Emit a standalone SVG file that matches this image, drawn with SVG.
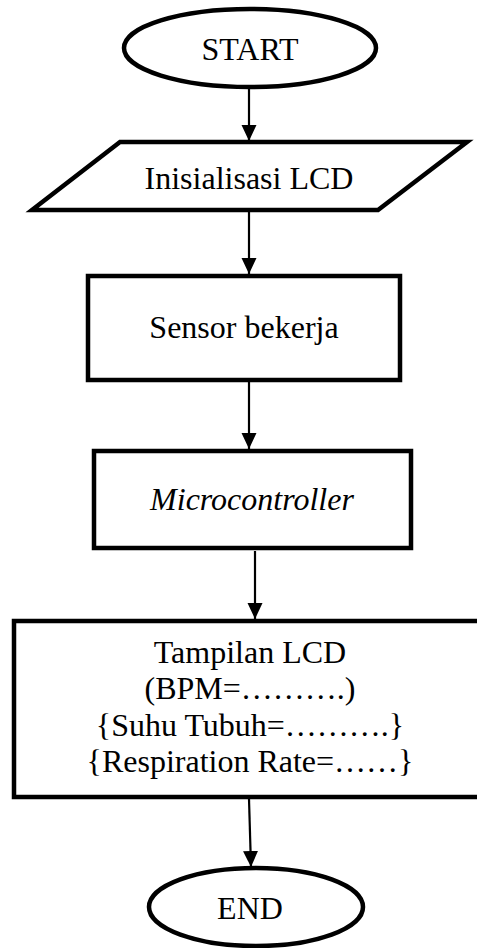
<svg xmlns="http://www.w3.org/2000/svg" width="477" height="948" viewBox="0 0 477 948">
<style>
.shape{fill:#fff;stroke:#000;stroke-width:4.5}
.conn{stroke:#000;stroke-width:2.2;fill:none}
text{font-family:"Liberation Serif","Times New Roman",serif;font-size:32px;fill:#000;text-anchor:middle}
.it{font-style:italic}
</style>
<defs>
<marker id="ah" markerUnits="userSpaceOnUse" markerWidth="17" markerHeight="16" refX="16" refY="7.5" orient="auto">
<path d="M0,0 L16,7.5 L0,15 z" fill="#000"/>
</marker>
</defs>
<rect width="477" height="948" fill="#fff"/>
<g id="connectors">
<line class="conn" x1="249" y1="88" x2="249" y2="141" marker-end="url(#ah)"/>
<line class="conn" x1="249" y1="212" x2="249" y2="274" marker-end="url(#ah)"/>
<line class="conn" x1="249" y1="382" x2="249" y2="449" marker-end="url(#ah)"/>
<line class="conn" x1="255" y1="551" x2="255" y2="619" marker-end="url(#ah)"/>
<line class="conn" x1="249" y1="799" x2="251" y2="867" marker-end="url(#ah)"/>
</g>
<g id="start">
<ellipse class="shape" cx="250" cy="48" rx="126" ry="39"/>
<text x="250" y="60">START</text>
</g>
<g id="init">
<polygon class="shape" points="120,142 467,142 378,210 32,210"/>
<text x="249" y="189">Inisialisasi LCD</text>
</g>
<g id="sensor">
<rect class="shape" x="88" y="276" width="312" height="104"/>
<text x="244" y="338">Sensor bekerja</text>
</g>
<g id="micro">
<rect class="shape" x="94" y="451" width="317" height="97"/>
<text class="it" x="252" y="510">Microcontroller</text>
</g>
<g id="display">
<rect class="shape" x="14" y="621" width="480" height="176"/>
<text x="250" y="663">Tampilan LCD</text>
<text x="250" y="699">(BPM=……….)</text>
<text x="250" y="736">{Suhu Tubuh=……….}</text>
<text x="250" y="772">{Respiration Rate=……}</text>
</g>
<g id="end">
<ellipse class="shape" cx="256" cy="907" rx="107" ry="39"/>
<text x="250" y="919">END</text>
</g>
</svg>
